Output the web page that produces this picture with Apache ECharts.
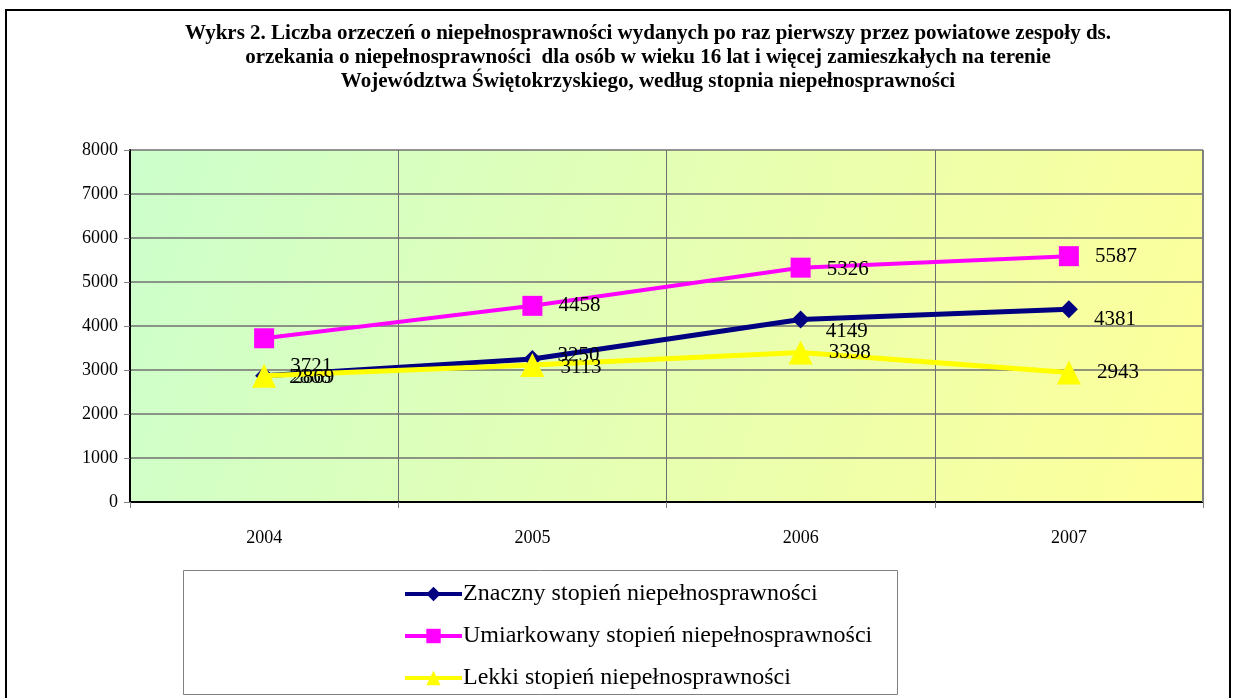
<!DOCTYPE html>
<html>
<head>
<meta charset="utf-8">
<script src="https://cdn.jsdelivr.net/npm/echarts@6/dist/echarts.min.js"></script>
<style>
  html, body { margin: 0; padding: 0; background: #fff; }
  #chart-container { width: 1238px; height: 698px; }
</style>
</head>
<body>
<div id="chart-container"></div>
<script>
var years = ['2004', '2005', '2006', '2007'];
var znaczny = [2868, 3250, 4149, 4381];
var umiarkowany = [3721, 4458, 5326, 5587];
var lekki = [2869, 3113, 3398, 2943];
var seriesNames = [
  'Znaczny stopień niepełnosprawności',
  'Umiarkowany stopień niepełnosprawności',
  'Lekki stopień niepełnosprawności'
];
// vertical nudges of the value labels, as placed in the original
var znacznyLabelDy = [2, -4, 12, 10];
var umiarkowanyLabelDy = [28, 0, 2, 0];
var lekkiLabelDy = [2, 2, 0, 0];

var dom = document.getElementById('chart-container');
var myChart = echarts.init(dom, null, { renderer: 'canvas' });

var serif = '"Liberation Serif", "Times New Roman", serif';

function withLabels(values, dys) {
  return values.map(function (v, i) {
    return { value: v, label: { offset: [0, dys[i]] } };
  });
}

function labelCfg() {
  return {
    show: true,
    position: 'right',
    distance: 16,
    color: '#000',
    fontFamily: serif,
    fontSize: 21
  };
}

var option = {
  animation: false,
  backgroundColor: '#fff',
  title: {
    text: 'Wykrs 2. Liczba orzeczeń o niepełnosprawności wydanych po raz pierwszy przez powiatowe zespoły ds.\norzekania o niepełnosprawności  dla osób w wieku 16 lat i więcej zamieszkałych na terenie\nWojewództwa Świętokrzyskiego, według stopnia niepełnosprawności',
    left: 643,
    top: 17,
    textAlign: 'center',
    textStyle: {
      fontFamily: serif,
      fontWeight: 'bold',
      fontSize: 21,
      lineHeight: 24,
      color: '#000'
    }
  },
  graphic: [
    {
      type: 'rect',
      z: -1,
      shape: { x: 6, y: 10, width: 1224, height: 700 },
      style: { fill: 'none', stroke: '#000', lineWidth: 2 }
    },
    {
      type: 'rect',
      z: -1,
      shape: { x: 183.5, y: 570.5, width: 714, height: 124 },
      style: { fill: 'none', stroke: '#808080', lineWidth: 1 }
    },
    {
      type: 'line',
      z: 1,
      shape: { x1: 1203, y1: 150, x2: 1203, y2: 502 },
      style: { stroke: '#808080', lineWidth: 2 }
    }
  ],
  legend: {
    orient: 'vertical',
    left: 403,
    top: 582,
    padding: 0,
    itemGap: 18,
    itemWidth: 57,
    itemHeight: 18,
    lineStyle: { width: 4 },
    data: seriesNames,
    textStyle: { fontFamily: serif, fontSize: 24, lineHeight: 24, color: '#000', padding: [0, 0, 0, -4] }
  },
  grid: {
    left: 130,
    right: 35,
    top: 150,
    bottom: 196,
    show: true,
    borderWidth: 0,
    backgroundColor: new echarts.graphic.LinearGradient(0, 0, 1, 1, [
      { offset: 0, color: '#ccffcc' },
      { offset: 1, color: '#ffff99' }
    ])
  },
  xAxis: {
    type: 'category',
    data: years,
    boundaryGap: true,
    axisLine: { lineStyle: { color: '#000', width: 2 } },
    axisTick: { show: true, length: 6, lineStyle: { color: '#808080' } },
    axisLabel: { margin: 27, color: '#000', fontFamily: serif, fontSize: 18 },
    splitLine: { show: true, lineStyle: { color: '#707070', width: 1 } }
  },
  yAxis: {
    type: 'value',
    min: 0,
    max: 8000,
    interval: 1000,
    axisLine: { show: true, lineStyle: { color: '#000', width: 2 } },
    axisTick: { show: true, length: 6, lineStyle: { color: '#808080' } },
    axisLabel: {
      margin: 12,
      color: '#000',
      fontFamily: serif,
      fontSize: 18,
      formatter: function (v) { return String(v); }
    },
    splitLine: { show: true, lineStyle: { color: '#707070', width: 1.5 } }
  },
  series: [
    {
      name: seriesNames[0],
      type: 'line',
      data: withLabels(znaczny, znacznyLabelDy),
      z: 3,
      symbol: 'diamond',
      symbolSize: 18,
      lineStyle: { color: '#000080', width: 5 },
      itemStyle: { color: '#000080' },
      label: labelCfg()
    },
    {
      name: seriesNames[1],
      type: 'line',
      data: withLabels(umiarkowany, umiarkowanyLabelDy),
      z: 2,
      symbol: 'rect',
      symbolSize: 20,
      lineStyle: { color: '#ff00ff', width: 4 },
      itemStyle: { color: '#ff00ff' },
      label: labelCfg()
    },
    {
      name: seriesNames[2],
      type: 'line',
      data: withLabels(lekki, lekkiLabelDy),
      z: 4,
      symbol: 'triangle',
      symbolSize: 24,
      lineStyle: { color: '#ffff00', width: 5 },
      itemStyle: { color: '#ffff00' },
      label: labelCfg()
    }
  ]
};

myChart.setOption(option);
window.addEventListener('resize', myChart.resize);
</script>
</body>
</html>
